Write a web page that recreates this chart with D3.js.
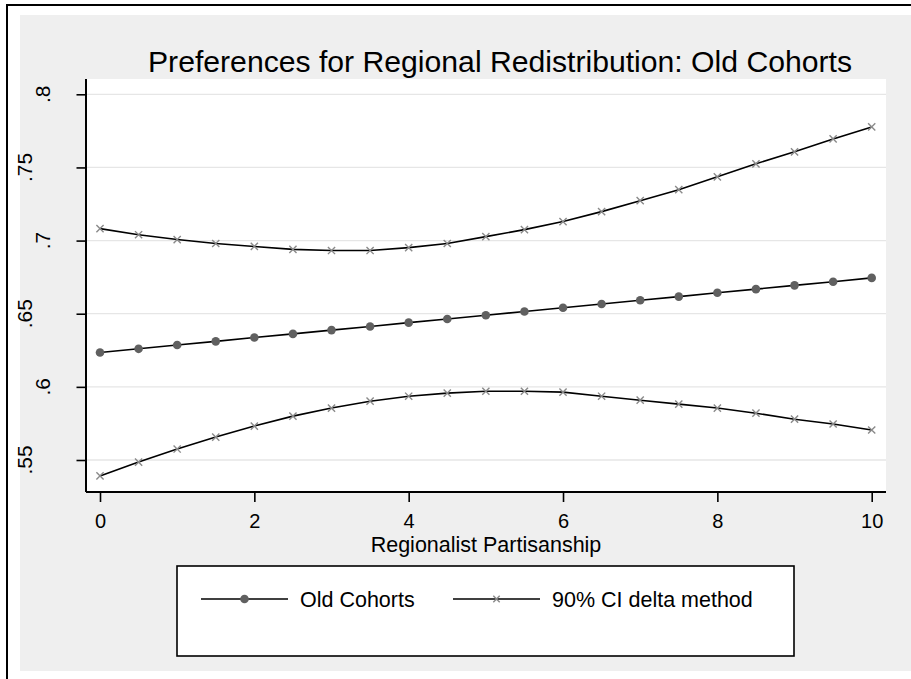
<!DOCTYPE html>
<html><head><meta charset="utf-8">
<script src="https://cdn.jsdelivr.net/npm/d3@7"></script>
<style>body{margin:0;background:#fff}svg{display:block}text{font-family:"Liberation Sans",Arial,Helvetica,sans-serif;fill:#000}</style>
</head><body><svg id="c" width="911" height="679"></svg>
<script>
const xValues = [0,0.5,1,1.5,2,2.5,3,3.5,4,4.5,5,5.5,6,6.5,7,7.5,8,8.5,9,9.5,10];
const estimate = [0.6235,0.626,0.6286,0.6311,0.6337,0.6362,0.6388,0.6413,0.6439,0.6464,0.649,0.6515,0.6541,0.6566,0.6592,0.6617,0.6643,0.6668,0.6694,0.6719,0.6745];
const upperCI = [0.7082,0.704,0.7007,0.698,0.696,0.694,0.6932,0.6932,0.6952,0.698,0.7027,0.7075,0.713,0.7198,0.7273,0.7348,0.7436,0.7525,0.7607,0.7695,0.7777];
const lowerCI = [0.5391,0.5486,0.5575,0.5657,0.5732,0.58,0.5855,0.5902,0.5936,0.5957,0.597,0.597,0.5964,0.5936,0.5909,0.5882,0.5855,0.582,0.5779,0.5746,0.5705];
const xTicks = [0,2,4,6,8,10];
const yTicks = [0.55,0.6,0.65,0.7,0.75,0.8];
const yTickLabels = [".55",".6",".65",".7",".75",".8"];
const titleText = "Preferences for Regional Redistribution: Old Cohorts";
const xTitle = "Regionalist Partisanship";
const legendLabels = ["Old Cohorts","90% CI delta method"];

const svg = d3.select("#c");
svg.append("rect").attr("x",20).attr("y",15).attr("width",900).attr("height",656).attr("fill","#efefef");
svg.append("path").attr("d","M7,690 V5 H920").attr("fill","none").attr("stroke","#000").attr("stroke-width",2);

const pl=86, pr=886, pt=79, pb=492;
const x = d3.scaleLinear().domain([0,10]).range([100,871.7]);
const y = d3.scaleLinear().domain([0.55,0.8]).range([460,94.3]);

svg.append("rect").attr("x",pl).attr("y",pt).attr("width",pr-pl).attr("height",pb-pt).attr("fill","#fff");
svg.append("g").selectAll("line").data(yTicks).join("line")
  .attr("x1",pl).attr("x2",pr).attr("y1",d=>y(d)).attr("y2",d=>y(d))
  .attr("stroke","#e6e6e6").attr("stroke-width",1.3);

const yAxis = d3.axisLeft(y).tickValues(yTicks).tickSize(9.5).tickFormat("");
const gy = svg.append("g").attr("transform",`translate(${pl},0)`).call(yAxis);
gy.select(".domain").attr("d",`M0,${pt}V${pb}`).attr("stroke","#000").attr("stroke-width",2);
gy.selectAll(".tick line").attr("stroke","#000").attr("stroke-width",1.6);
svg.append("g").selectAll("text").data(yTicks).join("text")
  .attr("transform",(d,i)=>`translate(${yTickLabels[i].length>2?32:50},${y(d)}) rotate(-90)`)
  .attr("text-anchor","middle").attr("font-size",21).text((d,i)=>yTickLabels[i]);

const xAxis = d3.axisBottom(x).tickValues(xTicks).tickSize(10).tickFormat(d3.format("d"));
const gx = svg.append("g").attr("transform",`translate(0,${pb})`).call(xAxis);
gx.select(".domain").attr("d",`M${pl},0H${pr}`).attr("stroke","#000").attr("stroke-width",2);
gx.selectAll(".tick line").attr("stroke","#000").attr("stroke-width",1.6);
gx.selectAll(".tick text").attr("font-size",20).attr("font-family","'Liberation Sans',Arial,sans-serif").attr("fill","#000").attr("dy",0).attr("y",36);

const line = d3.line().x((d,i)=>x(xValues[i])).y(d=>y(d));
[upperCI,lowerCI,estimate].forEach(s=>{
  svg.append("path").attr("d",line(s)).attr("fill","none").attr("stroke","#000").attr("stroke-width",1.6);
});
function xMark(g,cx,cy,s){
  g.append("path").attr("d",`M${cx-s},${cy-s}L${cx+s},${cy+s}M${cx-s},${cy+s}L${cx+s},${cy-s}`)
   .attr("stroke","#8a8a8a").attr("stroke-width",1.4).attr("fill","none");
}
const gm = svg.append("g");
[upperCI,lowerCI].forEach(s=>s.forEach((v,i)=>xMark(gm,x(xValues[i]),y(v),3.6)));
svg.append("g").selectAll("circle").data(estimate).join("circle")
  .attr("cx",(d,i)=>x(xValues[i])).attr("cy",d=>y(d)).attr("r",4.3).attr("fill","#606060");

svg.append("text").attr("x",500).attr("y",72).attr("text-anchor","middle").attr("font-size",29)
  .attr("textLength",704).attr("lengthAdjust","spacingAndGlyphs").text(titleText);
svg.append("text").attr("x",486).attr("y",552).attr("text-anchor","middle").attr("font-size",21.5).text(xTitle);

const lg = svg.append("g");
lg.append("rect").attr("x",177).attr("y",566).attr("width",617).attr("height",90).attr("fill","#fff").attr("stroke","#000").attr("stroke-width",1.6);
const ly=599;
lg.append("line").attr("x1",201).attr("x2",288).attr("y1",ly).attr("y2",ly).attr("stroke","#000").attr("stroke-width",1.6);
lg.append("circle").attr("cx",244.5).attr("cy",ly).attr("r",4.3).attr("fill","#606060");
lg.append("text").attr("x",300).attr("y",ly+8).attr("font-size",21.5).text(legendLabels[0]);
lg.append("line").attr("x1",453).attr("x2",540).attr("y1",ly).attr("y2",ly).attr("stroke","#000").attr("stroke-width",1.6);
xMark(lg,496.5,ly,3.2);
lg.append("text").attr("x",552).attr("y",ly+8).attr("font-size",21.5).text(legendLabels[1]);
</script></body></html>
